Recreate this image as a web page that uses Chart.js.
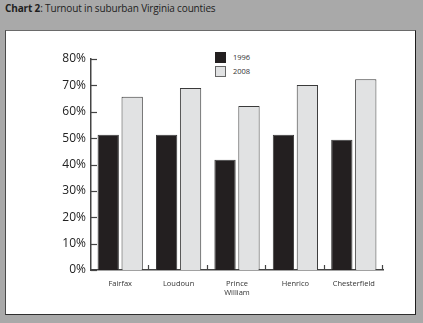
<!DOCTYPE html>
<html>
<head>
<meta charset="utf-8">
<script src="https://cdn.jsdelivr.net/npm/chart.js@4.4.1/dist/chart.umd.min.js"></script>
<style>
  html,body{margin:0;padding:0;}
  body{width:423px;height:323px;background:#a9a9a9;position:relative;overflow:hidden;font-family:"Open Sans",sans-serif;}
  #title{position:absolute;left:5px;top:1px;font-size:10px;color:#1e1e1e;letter-spacing:-0.15px;}
  #title b{font-weight:700;}
  #panel{position:absolute;left:5px;top:30px;width:409px;height:283px;background:#fff;border:1.5px solid #444;border-top-color:#6a6a6a;border-left-color:#4a4a4a;border-right-color:#1e1e1e;border-bottom-color:#2e2e2e;}
  #c{position:absolute;left:0;top:0;}
  .lg{position:absolute;left:215px;font-size:7.5px;color:#333;}
  .lg span{position:absolute;left:0;top:0;width:11px;height:11px;box-sizing:border-box;}
  .lg em{position:absolute;left:18px;top:0;font-style:normal;line-height:11px;}
</style>
</head>
<body>
<div id="title"><b>Chart 2</b>: Turnout in suburban Virginia counties</div>
<div id="panel"></div>
<div class="lg" style="top:52px"><span id="sw0"></span><em id="lb0"></em></div>
<div class="lg" style="top:66px"><span id="sw1"></span><em id="lb1"></em></div>
<canvas id="c" width="423" height="323"></canvas>
<script>
const categories = [["Fairfax"], ["Loudoun"], ["Prince", "William"], ["Henrico"], ["Chesterfield"]];
const seriesNames = ["1996", "2008"];
const turnout1996 = [51.3, 51.3, 41.8, 51.3, 49.4];
const turnout2008 = [65.7, 69.0, 62.2, 70.1, 72.3];
const yTicks = [0, 10, 20, 30, 40, 50, 60, 70, 80];

const fills = ["#231f20", "#e1e2e3"];
const borders = ["#3a3a3a", "#3a3a3a"];

// HTML legend
for (let i = 0; i < 2; i++) {
  const sw = document.getElementById('sw' + i);
  sw.style.background = fills[i];
  sw.style.border = '1px solid ' + (i ? '#666' : '#231f20');
  document.getElementById('lb' + i).textContent = seriesNames[i];
}

const inwardTicks = {
  id: 'inwardTicks',
  afterDraw(chart) {
    const ctx = chart.ctx;
    const y = chart.scales.y, x = chart.scales.x;
    ctx.save();
    ctx.strokeStyle = '#444';
    ctx.lineWidth = 1.2;
    y.ticks.forEach((t, i) => {
      const py = Math.round(y.getPixelForTick(i)) + 0.5;
      ctx.beginPath();
      ctx.moveTo(y.right, py);
      ctx.lineTo(y.right + 6, py);
      ctx.stroke();
    });
    const n = x.ticks.length;
    const step = (x.right - x.left) / n;
    for (let i = 1; i <= n; i++) {
      const px = Math.round(x.getPixelForTick(i - 1) + step / 2) - 0.5;
      ctx.beginPath();
      ctx.moveTo(px, x.top);
      ctx.lineTo(px, x.top - 5);
      ctx.stroke();
    }
    ctx.restore();
  }
};

new Chart(document.getElementById('c'), {
  type: 'bar',
  data: {
    labels: categories,
    datasets: [
      { label: seriesNames[0], data: turnout1996, backgroundColor: fills[0], borderColor: borders[0], borderWidth: 1, categoryPercentage: 0.82, barPercentage: 0.89 },
      { label: seriesNames[1], data: turnout2008, backgroundColor: fills[1], borderColor: borders[1], borderWidth: 1, categoryPercentage: 0.82, barPercentage: 0.89 }
    ]
  },
  options: {
    responsive: false,
    animation: false,
    layout: { padding: { left: 0, right: 40, top: 59, bottom: 0 } },
    plugins: { legend: { display: false }, tooltip: { enabled: false } },
    scales: {
      x: {
        grid: { display: false, drawTicks: false },
        border: { display: true, color: '#444', width: 1.5 },
        ticks: { color: '#333', font: { family: 'Open Sans', size: 7.5 }, padding: 9, maxRotation: 0, autoSkip: false },
        afterFit(s) { s.height = 53; }
      },
      y: {
        min: 0, max: 80,
        afterBuildTicks(s) { s.ticks = yTicks.map(v => ({ value: v })); },
        grid: { display: false, drawTicks: false },
        border: { display: true, color: '#444', width: 1.5 },
        ticks: { color: '#222', font: { family: 'Open Sans', size: 12 }, padding: 5, callback: v => v + '%' },
        afterFit(s) { s.width = 91; }
      }
    }
  },
  plugins: [inwardTicks]
});
</script>
</body>
</html>
